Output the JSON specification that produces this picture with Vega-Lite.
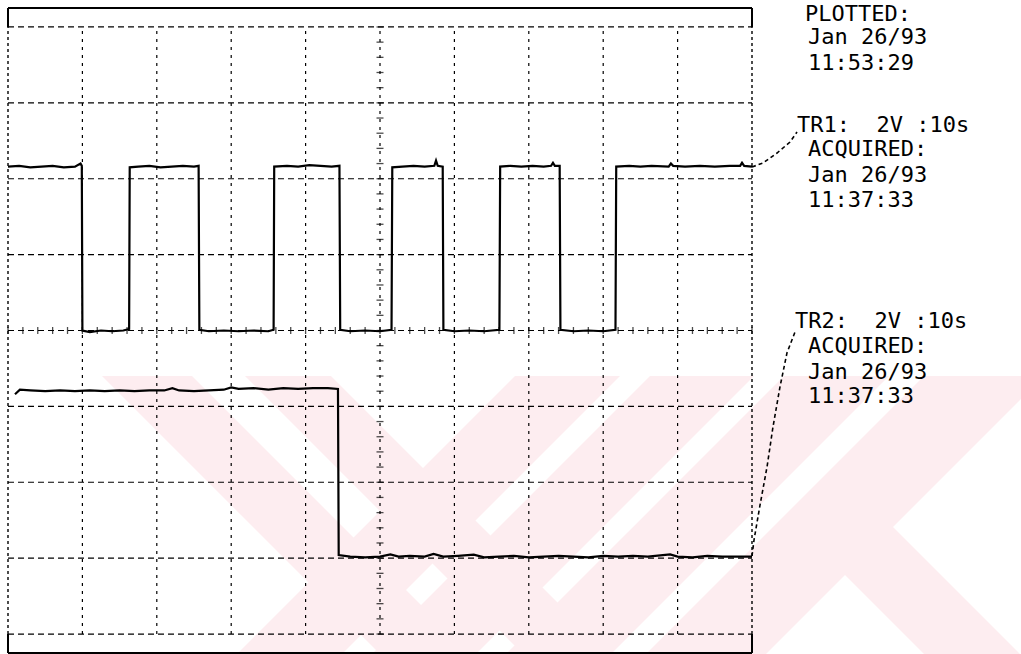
{
  "$schema": "https://vega.github.io/schema/vega-lite/v6.json",
  "autosize": {"type": "none"},
  "padding": {"left": 8, "top": 8, "right": 269, "bottom": 1},
  "width": 744,
  "height": 645,
  "background": "white",
  "config": {"view": {"stroke": null}},
  "datasets": {
    "watermark": [
      {"band": "A", "v": -0.6, "t": 12.63, "t2": 24.73},
      {"band": "A", "v": -4.29, "t": 50.27, "t2": 62.37},
      {"band": "B", "v": -0.6, "t": 31.85, "t2": 43.41},
      {"band": "B", "v": -4.29, "t": 69.49, "t2": 81.05},
      {"band": "C", "v": -0.6, "t": 68.15, "t2": 82.26},
      {"band": "C", "v": -4.29, "t": 30.51, "t2": 44.62},
      {"band": "D", "v": -0.6, "t": 86.29, "t2": 100.27},
      {"band": "D", "v": -4.29, "t": 48.66, "t2": 62.63},
      {"band": "E", "v": -0.6, "t": 104.3, "t2": 118.41},
      {"band": "E", "v": -4.29, "t": 66.67, "t2": 80.78},
      {"band": "F", "v": -0.6, "t": 123.12, "t2": 139.25},
      {"band": "F", "v": -4.29, "t": 85.48, "t2": 101.61},
      {"band": "G", "v": -2.59, "t": 106.05, "t2": 118.95},
      {"band": "G", "v": -4.29, "t": 123.39, "t2": 136.29}
    ],
    "hgrid": [
      {"v": -4, "t": 0, "t2": 100}, {"v": -3, "t": 0, "t2": 100}, {"v": -2, "t": 0, "t2": 100},
      {"v": -1, "t": 0, "t2": 100}, {"v": 0, "t": 0, "t2": 100}, {"v": 1, "t": 0, "t2": 100},
      {"v": 2, "t": 0, "t2": 100}, {"v": 3, "t": 0, "t2": 100}, {"v": 4, "t": 0, "t2": 100}
    ],
    "vgrid": [
      {"t": 10, "v": -4, "v2": 4}, {"t": 20, "v": -4, "v2": 4},
      {"t": 30, "v": -4, "v2": 4}, {"t": 40, "v": -4, "v2": 4}, {"t": 50, "v": -4, "v2": 4},
      {"t": 60, "v": -4, "v2": 4}, {"t": 70, "v": -4, "v2": 4}, {"t": 80, "v": -4, "v2": 4},
      {"t": 90, "v": -4, "v2": 4}
    ],
    "edges": [
      {"t": 0, "v": -4, "v2": 4}, {"t": 100, "v": -4, "v2": 4}
    ],
    "frameH": [
      {"v": 4.25, "t": 0, "t2": 100}, {"v": -4.25, "t": 0, "t2": 100}
    ],
    "frameV": [
      {"t": 0, "v": 4, "v2": 4.25}, {"t": 100, "v": 4, "v2": 4.25},
      {"t": 0, "v": -4, "v2": -4.25}, {"t": 100, "v": -4, "v2": -4.25}
    ],
    "vticks": [
      {"t": 50, "v": -4}, {"t": 50, "v": -3.8}, {"t": 50, "v": -3.6}, {"t": 50, "v": -3.4}, {"t": 50, "v": -3.2},
      {"t": 50, "v": -3}, {"t": 50, "v": -2.8}, {"t": 50, "v": -2.6}, {"t": 50, "v": -2.4}, {"t": 50, "v": -2.2},
      {"t": 50, "v": -2}, {"t": 50, "v": -1.8}, {"t": 50, "v": -1.6}, {"t": 50, "v": -1.4}, {"t": 50, "v": -1.2},
      {"t": 50, "v": -1}, {"t": 50, "v": -0.8}, {"t": 50, "v": -0.6}, {"t": 50, "v": -0.4}, {"t": 50, "v": -0.2},
      {"t": 50, "v": 0}, {"t": 50, "v": 0.2}, {"t": 50, "v": 0.4}, {"t": 50, "v": 0.6}, {"t": 50, "v": 0.8},
      {"t": 50, "v": 1}, {"t": 50, "v": 1.2}, {"t": 50, "v": 1.4}, {"t": 50, "v": 1.6}, {"t": 50, "v": 1.8},
      {"t": 50, "v": 2}, {"t": 50, "v": 2.2}, {"t": 50, "v": 2.4}, {"t": 50, "v": 2.6}, {"t": 50, "v": 2.8},
      {"t": 50, "v": 3}, {"t": 50, "v": 3.2}, {"t": 50, "v": 3.4}, {"t": 50, "v": 3.6}, {"t": 50, "v": 3.8},
      {"t": 50, "v": 4}
    ],
    "hticks": [
      {"t": 0, "v": 0}, {"t": 2, "v": 0}, {"t": 4, "v": 0}, {"t": 6, "v": 0}, {"t": 8, "v": 0},
      {"t": 10, "v": 0}, {"t": 12, "v": 0}, {"t": 14, "v": 0}, {"t": 16, "v": 0}, {"t": 18, "v": 0},
      {"t": 20, "v": 0}, {"t": 22, "v": 0}, {"t": 24, "v": 0}, {"t": 26, "v": 0}, {"t": 28, "v": 0},
      {"t": 30, "v": 0}, {"t": 32, "v": 0}, {"t": 34, "v": 0}, {"t": 36, "v": 0}, {"t": 38, "v": 0},
      {"t": 40, "v": 0}, {"t": 42, "v": 0}, {"t": 44, "v": 0}, {"t": 46, "v": 0}, {"t": 48, "v": 0},
      {"t": 50, "v": 0}, {"t": 52, "v": 0}, {"t": 54, "v": 0}, {"t": 56, "v": 0}, {"t": 58, "v": 0},
      {"t": 60, "v": 0}, {"t": 62, "v": 0}, {"t": 64, "v": 0}, {"t": 66, "v": 0}, {"t": 68, "v": 0},
      {"t": 70, "v": 0}, {"t": 72, "v": 0}, {"t": 74, "v": 0}, {"t": 76, "v": 0}, {"t": 78, "v": 0},
      {"t": 80, "v": 0}, {"t": 82, "v": 0}, {"t": 84, "v": 0}, {"t": 86, "v": 0}, {"t": 88, "v": 0},
      {"t": 90, "v": 0}, {"t": 92, "v": 0}, {"t": 94, "v": 0}, {"t": 96, "v": 0}, {"t": 98, "v": 0},
      {"t": 100, "v": 0}
    ],
    "traces": [
      {"trace": "TR1", "t": 0, "v": 2.16}, {"trace": "TR1", "t": 1.5, "v": 2.17}, {"trace": "TR1", "t": 3, "v": 2.15},
      {"trace": "TR1", "t": 4.5, "v": 2.16}, {"trace": "TR1", "t": 6, "v": 2.17}, {"trace": "TR1", "t": 7.5, "v": 2.15},
      {"trace": "TR1", "t": 9, "v": 2.16}, {"trace": "TR1", "t": 9.75, "v": 2.2}, {"trace": "TR1", "t": 9.92, "v": 2.17},
      {"trace": "TR1", "t": 10.0, "v": 0.0}, {"trace": "TR1", "t": 11, "v": -0.02}, {"trace": "TR1", "t": 12.5, "v": 0.0},
      {"trace": "TR1", "t": 14, "v": -0.01}, {"trace": "TR1", "t": 15.5, "v": 0.0}, {"trace": "TR1", "t": 16.28, "v": 0.02},
      {"trace": "TR1", "t": 16.36, "v": 2.15}, {"trace": "TR1", "t": 17.5, "v": 2.16}, {"trace": "TR1", "t": 19, "v": 2.17},
      {"trace": "TR1", "t": 20.5, "v": 2.15}, {"trace": "TR1", "t": 22, "v": 2.16}, {"trace": "TR1", "t": 23.5, "v": 2.17},
      {"trace": "TR1", "t": 25, "v": 2.16}, {"trace": "TR1", "t": 25.62, "v": 2.17}, {"trace": "TR1", "t": 25.72, "v": 0.01},
      {"trace": "TR1", "t": 27, "v": -0.01}, {"trace": "TR1", "t": 29, "v": 0.0}, {"trace": "TR1", "t": 31, "v": -0.01},
      {"trace": "TR1", "t": 33, "v": 0.0}, {"trace": "TR1", "t": 35, "v": -0.01}, {"trace": "TR1", "t": 35.7, "v": 0.01},
      {"trace": "TR1", "t": 35.78, "v": 2.16}, {"trace": "TR1", "t": 37.5, "v": 2.17}, {"trace": "TR1", "t": 39, "v": 2.16},
      {"trace": "TR1", "t": 40.5, "v": 2.18}, {"trace": "TR1", "t": 42, "v": 2.17}, {"trace": "TR1", "t": 43.5, "v": 2.16},
      {"trace": "TR1", "t": 44.55, "v": 2.17}, {"trace": "TR1", "t": 44.65, "v": 0.01}, {"trace": "TR1", "t": 46, "v": -0.01},
      {"trace": "TR1", "t": 48, "v": 0.0}, {"trace": "TR1", "t": 50, "v": -0.01}, {"trace": "TR1", "t": 51.55, "v": 0.01},
      {"trace": "TR1", "t": 51.65, "v": 2.15}, {"trace": "TR1", "t": 53, "v": 2.16}, {"trace": "TR1", "t": 54.5, "v": 2.17},
      {"trace": "TR1", "t": 56, "v": 2.16}, {"trace": "TR1", "t": 57.3, "v": 2.17}, {"trace": "TR1", "t": 57.53, "v": 2.24},
      {"trace": "TR1", "t": 57.76, "v": 2.17}, {"trace": "TR1", "t": 58.43, "v": 2.16}, {"trace": "TR1", "t": 58.52, "v": 0.01},
      {"trace": "TR1", "t": 60, "v": -0.01}, {"trace": "TR1", "t": 62, "v": 0.0}, {"trace": "TR1", "t": 64, "v": -0.01},
      {"trace": "TR1", "t": 66.05, "v": 0.01}, {"trace": "TR1", "t": 66.15, "v": 2.16}, {"trace": "TR1", "t": 67.5, "v": 2.17},
      {"trace": "TR1", "t": 69, "v": 2.16}, {"trace": "TR1", "t": 70.5, "v": 2.17}, {"trace": "TR1", "t": 72, "v": 2.16},
      {"trace": "TR1", "t": 73.0, "v": 2.17}, {"trace": "TR1", "t": 73.25, "v": 2.21}, {"trace": "TR1", "t": 73.5, "v": 2.17},
      {"trace": "TR1", "t": 74.15, "v": 2.17}, {"trace": "TR1", "t": 74.25, "v": 0.01}, {"trace": "TR1", "t": 76, "v": -0.01},
      {"trace": "TR1", "t": 78, "v": 0.0}, {"trace": "TR1", "t": 80, "v": -0.01}, {"trace": "TR1", "t": 81.65, "v": 0.01},
      {"trace": "TR1", "t": 81.75, "v": 2.16}, {"trace": "TR1", "t": 83.5, "v": 2.17}, {"trace": "TR1", "t": 85, "v": 2.16},
      {"trace": "TR1", "t": 86.5, "v": 2.17}, {"trace": "TR1", "t": 88.8, "v": 2.16}, {"trace": "TR1", "t": 89.1, "v": 2.2},
      {"trace": "TR1", "t": 89.4, "v": 2.17}, {"trace": "TR1", "t": 91, "v": 2.16}, {"trace": "TR1", "t": 93, "v": 2.17},
      {"trace": "TR1", "t": 95, "v": 2.16}, {"trace": "TR1", "t": 97, "v": 2.17}, {"trace": "TR1", "t": 98.4, "v": 2.17},
      {"trace": "TR1", "t": 98.66, "v": 2.21}, {"trace": "TR1", "t": 98.95, "v": 2.17}, {"trace": "TR1", "t": 100, "v": 2.16},
      {"trace": "TR2", "t": 0.94, "v": -0.84}, {"trace": "TR2", "t": 1.6, "v": -0.78}, {"trace": "TR2", "t": 3, "v": -0.79},
      {"trace": "TR2", "t": 5, "v": -0.8}, {"trace": "TR2", "t": 7, "v": -0.79}, {"trace": "TR2", "t": 9, "v": -0.8},
      {"trace": "TR2", "t": 11, "v": -0.79}, {"trace": "TR2", "t": 13, "v": -0.8}, {"trace": "TR2", "t": 15, "v": -0.79},
      {"trace": "TR2", "t": 17, "v": -0.8}, {"trace": "TR2", "t": 19, "v": -0.79}, {"trace": "TR2", "t": 21, "v": -0.79},
      {"trace": "TR2", "t": 22.1, "v": -0.76}, {"trace": "TR2", "t": 23, "v": -0.79}, {"trace": "TR2", "t": 25, "v": -0.8},
      {"trace": "TR2", "t": 27, "v": -0.79}, {"trace": "TR2", "t": 29, "v": -0.78}, {"trace": "TR2", "t": 30, "v": -0.75},
      {"trace": "TR2", "t": 31, "v": -0.77}, {"trace": "TR2", "t": 33, "v": -0.76}, {"trace": "TR2", "t": 35, "v": -0.78},
      {"trace": "TR2", "t": 37, "v": -0.76}, {"trace": "TR2", "t": 39, "v": -0.77}, {"trace": "TR2", "t": 41, "v": -0.76},
      {"trace": "TR2", "t": 43, "v": -0.76}, {"trace": "TR2", "t": 44.35, "v": -0.77}, {"trace": "TR2", "t": 44.45, "v": -2.96},
      {"trace": "TR2", "t": 46, "v": -2.98}, {"trace": "TR2", "t": 48, "v": -2.99}, {"trace": "TR2", "t": 50, "v": -2.98},
      {"trace": "TR2", "t": 51.4, "v": -2.95}, {"trace": "TR2", "t": 52.5, "v": -2.98}, {"trace": "TR2", "t": 54, "v": -2.97},
      {"trace": "TR2", "t": 56, "v": -2.98}, {"trace": "TR2", "t": 57.2, "v": -2.945}, {"trace": "TR2", "t": 58.5, "v": -2.98},
      {"trace": "TR2", "t": 60.5, "v": -2.97}, {"trace": "TR2", "t": 62.6, "v": -2.955}, {"trace": "TR2", "t": 64, "v": -2.99},
      {"trace": "TR2", "t": 66, "v": -2.98}, {"trace": "TR2", "t": 68, "v": -2.97}, {"trace": "TR2", "t": 70, "v": -2.99},
      {"trace": "TR2", "t": 72, "v": -2.98}, {"trace": "TR2", "t": 74, "v": -2.97}, {"trace": "TR2", "t": 76, "v": -2.98},
      {"trace": "TR2", "t": 78, "v": -2.99}, {"trace": "TR2", "t": 80, "v": -2.97}, {"trace": "TR2", "t": 82, "v": -2.98},
      {"trace": "TR2", "t": 84, "v": -2.97}, {"trace": "TR2", "t": 86, "v": -2.98}, {"trace": "TR2", "t": 89.0, "v": -2.95},
      {"trace": "TR2", "t": 90, "v": -2.98}, {"trace": "TR2", "t": 92, "v": -2.99}, {"trace": "TR2", "t": 94, "v": -2.97},
      {"trace": "TR2", "t": 96, "v": -2.98}, {"trace": "TR2", "t": 98, "v": -2.98}, {"trace": "TR2", "t": 100, "v": -2.98}
    ],
    "leaders": [
      {"trace": "TR1", "t": 100.0, "v": 2.155}, {"trace": "TR1", "t": 101.48, "v": 2.207},
      {"trace": "TR1", "t": 103.36, "v": 2.339}, {"trace": "TR1", "t": 105.11, "v": 2.484},
      {"trace": "TR1", "t": 106.05, "v": 2.616},
      {"trace": "TR2", "t": 100.0, "v": -2.972}, {"trace": "TR2", "t": 100.27, "v": -2.761},
      {"trace": "TR2", "t": 101.08, "v": -2.299}, {"trace": "TR2", "t": 102.02, "v": -1.798},
      {"trace": "TR2", "t": 102.82, "v": -1.271}, {"trace": "TR2", "t": 103.76, "v": -0.744},
      {"trace": "TR2", "t": 104.7, "v": -0.296}, {"trace": "TR2", "t": 105.78, "v": -0.02}
    ],
    "labels": [
      {"label": "PLOTTED:", "t": 107.12, "v": 4.08},
      {"label": "Jan 26/93", "t": 107.53, "v": 3.769},
      {"label": "11:53:29", "t": 107.53, "v": 3.433},
      {"label": "TR1:\u00a0 2V :10s", "t": 106.05, "v": 2.616},
      {"label": "ACQUIRED:", "t": 107.53, "v": 2.299},
      {"label": "Jan 26/93", "t": 107.53, "v": 1.957},
      {"label": "11:37:33", "t": 107.53, "v": 1.627},
      {"label": "TR2:\u00a0 2V :10s", "t": 105.78, "v": 0.033},
      {"label": "ACQUIRED:", "t": 107.53, "v": -0.296},
      {"label": "Jan 26/93", "t": 107.53, "v": -0.639},
      {"label": "11:37:33", "t": 107.53, "v": -0.956}
    ]
  },
  "encoding": {
    "x": {"field": "t", "type": "quantitative", "scale": {"domain": [0, 100], "nice": false, "zero": false}, "axis": null},
    "y": {"field": "v", "type": "quantitative", "scale": {"domain": [-4.25, 4.25], "nice": false, "zero": false}, "axis": null}
  },
  "layer": [
    {
      "data": {"name": "watermark"},
      "mark": {"type": "area", "orient": "horizontal", "color": "#fdedf0", "clip": false, "opacity": 1},
      "encoding": {
        "x": {"field": "t", "type": "quantitative", "stack": null},
        "x2": {"field": "t2"},
        "y": {"field": "v", "type": "quantitative"},
        "detail": {"field": "band", "type": "nominal"}
      }
    },
    {
      "data": {"name": "hgrid"},
      "mark": {"type": "rule", "color": "black", "strokeWidth": 1.2, "strokeDash": [6, 4], "clip": false},
      "encoding": {"x2": {"field": "t2"}}
    },
    {
      "data": {"name": "vgrid"},
      "mark": {"type": "rule", "color": "black", "strokeWidth": 1.2, "strokeDash": [3, 5], "clip": false},
      "encoding": {"y2": {"field": "v2"}}
    },
    {
      "data": {"name": "edges"},
      "mark": {"type": "rule", "color": "black", "strokeWidth": 1.4, "strokeDash": [3, 3], "clip": false},
      "encoding": {"y2": {"field": "v2"}}
    },
    {
      "data": {"name": "frameH"},
      "mark": {"type": "rule", "color": "black", "strokeWidth": 2, "clip": false},
      "encoding": {"x2": {"field": "t2"}}
    },
    {
      "data": {"name": "frameV"},
      "mark": {"type": "rule", "color": "black", "strokeWidth": 2, "clip": false},
      "encoding": {"y2": {"field": "v2"}}
    },
    {
      "data": {"name": "vticks"},
      "mark": {"type": "tick", "orient": "horizontal", "color": "black", "size": 7, "thickness": 1.3, "clip": false},
      "encoding": {}
    },
    {
      "data": {"name": "hticks"},
      "mark": {"type": "tick", "orient": "vertical", "color": "black", "size": 7, "thickness": 1.3, "clip": false},
      "encoding": {}
    },
    {
      "data": {"name": "traces"},
      "mark": {"type": "line", "color": "black", "strokeWidth": 2.2, "clip": false},
      "encoding": {"detail": {"field": "trace", "type": "nominal"}}
    },
    {
      "data": {"name": "leaders"},
      "mark": {"type": "line", "color": "black", "strokeWidth": 1.6, "strokeDash": [4, 3], "clip": false},
      "encoding": {"detail": {"field": "trace", "type": "nominal"}}
    },
    {
      "data": {"name": "labels"},
      "mark": {"type": "text", "align": "left", "baseline": "alphabetic", "font": "DejaVu Sans Mono", "fontSize": 22, "color": "black", "clip": false},
      "encoding": {"text": {"field": "label", "type": "nominal"}}
    }
  ]
}
